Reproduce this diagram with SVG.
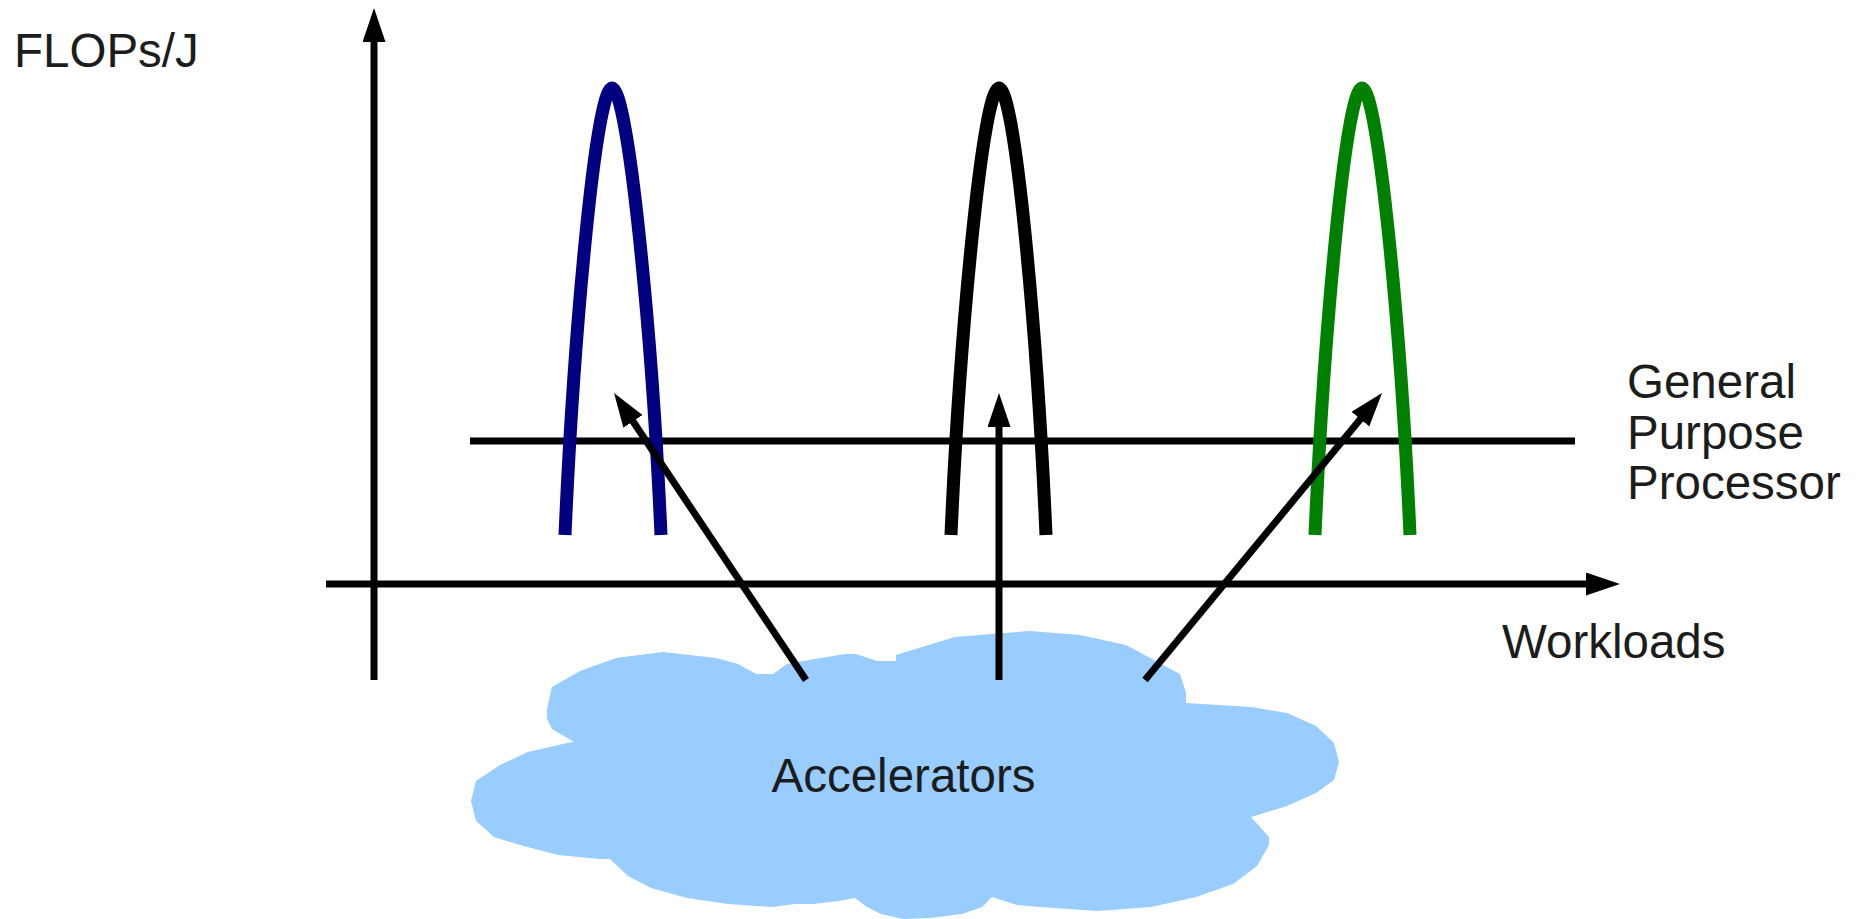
<svg xmlns="http://www.w3.org/2000/svg" width="1864" height="919" viewBox="0 0 1864 919">
<style>
.lbl{font-family:"Liberation Sans",Arial,sans-serif;font-size:47.5px;fill:#1c1c1c}
.ax{stroke:#000;stroke-width:7;fill:none}
.curve{stroke-width:13;fill:none;stroke-linecap:butt;stroke-linejoin:round}
</style>
<defs>
<marker id="ah" markerUnits="userSpaceOnUse" markerWidth="36" markerHeight="24" refX="6" refY="11.5" orient="auto">
<path d="M0,0 L34,11.5 L0,23 z" fill="#000"/>
</marker>
</defs>
<rect width="1864" height="919" fill="#fff"/>
<g id="cloud">
<polygon fill="#99ccff" points="663,652 716,658 738,664 756,674 773,674 787,664 803,661 845,654 856,654 877,661 896,661 896,655 955,637 1030,631 1080,635 1126,645 1180,674 1186,693 1186,703 1251,707 1287,713 1316,726 1334,743 1339,762 1334,780 1316,793 1287,806 1251,817 1269,837 1269,845 1257,866 1233,884 1196,897 1151,907 1098,911 1040,907 1017,905 992,897 982,907 962,914 930,918 903,919 881,914 867,907 855,898 838,901 813,904 795,904 772,907 728,904 687,898 651,888 628,876 610,859 600,859 558,855 520,845 494,837 476,821 471,801 476,781 500,765 528,752 567,743 574,742 552,729 547,719 547,709 552,687 580,671 616,658"/>
<text class="lbl" x="903.5" y="792" text-anchor="middle">Accelerators</text>
</g>
<g id="axes">
<line id="y-axis" class="ax" x1="374" y1="680" x2="374" y2="36" marker-end="url(#ah)"/>
<line id="x-axis" class="ax" x1="326" y1="584" x2="1592" y2="584" marker-end="url(#ah)"/>
</g>
<g id="general-purpose">
<line class="ax" x1="470" y1="441" x2="1575" y2="441"/>
<text class="lbl" x="1627" y="398">General</text>
<text class="lbl" x="1627" y="449">Purpose</text>
<text class="lbl" x="1627" y="499">Processor</text>
</g>
<g id="peak-blue">
<path class="curve" stroke="#000080" d="M565 535 C574 330,596 88,612 88 C628 88,652 330,661 535"/>
</g>
<g id="peak-black">
<path class="curve" stroke="#000" d="M951 535 C960 330,983 88,999 88 C1015 88,1037 330,1046 535"/>
</g>
<g id="peak-green">
<path class="curve" stroke="#008000" d="M1315 535 C1324 330,1346 88,1362 88 C1378 88,1401 330,1410 535"/>
</g>
<g id="connectors">
<line class="ax" x1="806" y1="680" x2="629.6" y2="416.3" marker-end="url(#ah)"/>
<line class="ax" x1="999" y1="680" x2="999" y2="421" marker-end="url(#ah)"/>
<line class="ax" x1="1145" y1="680" x2="1364.2" y2="414.6" marker-end="url(#ah)"/>
</g>
<g id="labels">
<text class="lbl" x="14" y="67">FLOPs/J</text>
<text class="lbl" x="1502" y="658">Workloads</text>
</g>
</svg>
